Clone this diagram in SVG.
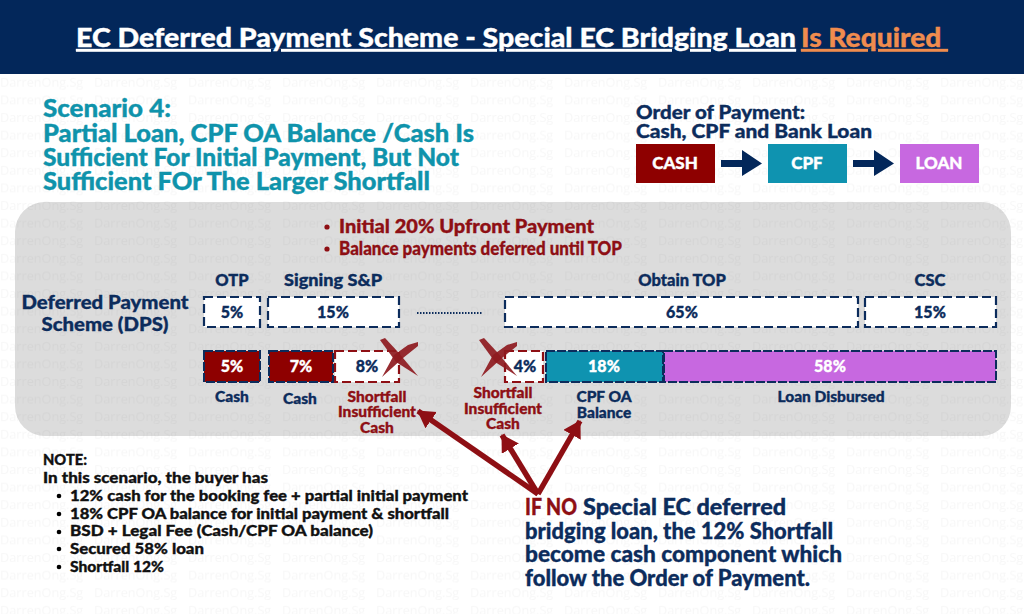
<svg xmlns="http://www.w3.org/2000/svg" width="1024" height="614" viewBox="0 0 1024 614">
<style>
text{font-family:"Lato","Open Sans","Liberation Sans",sans-serif;font-weight:900;stroke-width:.35px;paint-order:stroke}
.navy{fill:#0c2c5c;stroke:#0c2c5c}.red{fill:#8e0f14;stroke:#8e0f14}.teal{fill:#0f93ab;stroke:#0f93ab}.wht{fill:#fff;stroke:#fff}.blk{fill:#111;stroke:#111}
.c{text-anchor:middle}
.lab{font-size:15.5px}.pct{font-size:16px;text-anchor:middle}
.dash{fill:#fff;stroke:#0c2c5c;stroke-width:2.2;stroke-dasharray:9 4}
.dashr{fill:#fff;stroke:#8e0f14;stroke-width:2.2;stroke-dasharray:9 4}
.solid{stroke:#0c2c5c;stroke-width:2;stroke-dasharray:9 2}
.note{font-size:15.5px}.big{font-size:23px}.h2{font-size:24px}
.x{fill:#8e1a20;fill-opacity:.92}
.conn{stroke:#8e0f14;stroke-width:5.500;fill:none;marker-end:url(#ah)}
</style>
<defs>
<pattern id="wm" patternUnits="userSpaceOnUse" x="0" y="74" width="94" height="17.6">
<text x="0" y="12.500" style="font-family:'Open Sans',sans-serif;font-weight:400;font-size:12.700px;stroke:none" fill="#000" fill-opacity=".03">DarrenOng.Sg</text>
</pattern>
<marker id="ah" markerUnits="userSpaceOnUse" markerWidth="20" markerHeight="22" refX="16" refY="10" orient="auto"><path d="M0 0L17 10L0 20z" fill="#8e0f14"/></marker>
</defs>
<rect width="1024" height="614" fill="#fff"/>
<rect id="panel" x="15" y="202" width="996" height="234" rx="30" fill="#dcdcdc"/>
<rect x="0" y="74" width="1024" height="540" fill="url(#wm)"/>
<g id="banner">
<rect width="1024" height="74" fill="#03275a"/>
<text x="76" y="47" font-size="27" class="wht" text-decoration="underline" textLength="720" lengthAdjust="spacingAndGlyphs">EC Deferred Payment Scheme - Special EC Bridging Loan</text>
<text x="801" y="47" font-size="27" fill="#f08c4e" stroke="#f08c4e" text-decoration="underline" textLength="147" lengthAdjust="spacingAndGlyphs" xml:space="preserve">Is Required </text>
</g>
<g id="scenario">
<text class="h2 teal" x="43" y="117" textLength="128" lengthAdjust="spacingAndGlyphs">Scenario 4:</text>
<text class="h2 teal" x="43" y="142" textLength="431" lengthAdjust="spacingAndGlyphs">Partial Loan, CPF OA Balance /Cash Is</text>
<text class="h2 teal" x="43" y="166" textLength="416" lengthAdjust="spacingAndGlyphs">Sufficient For Initial Payment, But Not</text>
<text class="h2 teal" x="43" y="190" textLength="387" lengthAdjust="spacingAndGlyphs">Sufficient FOr The Larger Shortfall</text>
</g>
<g id="order">
<text class="navy" x="636" y="119" font-size="19" textLength="169" lengthAdjust="spacingAndGlyphs">Order of Payment:</text>
<text class="navy" x="636" y="138" font-size="19" textLength="236" lengthAdjust="spacingAndGlyphs">Cash, CPF and Bank Loan</text>
</g>
<g id="node-cash"><rect x="636" y="144" width="79" height="39" fill="#8e0000"/><text x="675" y="169" font-size="17" class="wht c">CASH</text></g>
<g id="node-cpf"><rect x="768" y="144" width="79" height="39" fill="#0f93b0"/><text x="807" y="169" font-size="17" class="wht c">CPF</text></g>
<g id="node-loan"><rect x="900" y="144" width="79" height="39" fill="#c768e0"/><text x="939" y="169" font-size="17" class="wht c">LOAN</text></g>
<g id="order-arrows" fill="#03275a">
<path d="M721 160H742V150L762 163.500L742 176V167H721z"/>
<path d="M853 160H874V150L894 163.500L874 176V167H853z"/>
</g>
<g id="bullets">
<circle cx="327" cy="227" r="2.600" fill="#8e0f14"/><circle cx="327" cy="249" r="2.600" fill="#8e0f14"/>
<text class="red" x="339" y="233" font-size="19" textLength="255" lengthAdjust="spacingAndGlyphs">Initial 20% Upfront Payment</text>
<text class="red" x="339" y="255" font-size="19" textLength="283" lengthAdjust="spacingAndGlyphs">Balance payments deferred until TOP</text>
</g>
<g id="dps-title">
<text x="105" y="309" font-size="19.500" class="c navy" textLength="167" lengthAdjust="spacingAndGlyphs">Deferred Payment</text>
<text x="105" y="331" font-size="19.500" class="c navy" textLength="127" lengthAdjust="spacingAndGlyphs">Scheme (DPS)</text>
</g>
<g id="stages">
<text x="232" y="286" font-size="16.500" class="c navy">OTP</text>
<text x="333" y="286" font-size="16.500" class="c navy" textLength="98" lengthAdjust="spacingAndGlyphs">Signing S&amp;P</text>
<text x="682" y="286" font-size="16.500" class="c navy">Obtain TOP</text>
<text x="930" y="286" font-size="16.500" class="c navy">CSC</text>
</g>
<g id="stage-otp"><rect class="dash" x="204" y="297" width="56" height="30"/><text class="pct navy" x="232" y="318">5%</text></g>
<g id="stage-sp"><rect class="dash" x="268" y="297" width="131" height="30"/><text class="pct navy" x="333" y="318">15%</text></g>
<g id="stage-top"><rect class="dash" x="505" y="297" width="353" height="30"/><text class="pct navy" x="682" y="318">65%</text></g>
<g id="stage-csc"><rect class="dash" x="865" y="297" width="131" height="30"/><text class="pct navy" x="930" y="318">15%</text></g>
<line id="dots" x1="417" y1="313" x2="483" y2="313" stroke="#0c2c5c" stroke-width="2" stroke-dasharray="1.500 1.500"/>
<g id="pay-cash1"><rect class="solid" x="204" y="351" width="56" height="31" fill="#8e0000"/><text class="pct wht" x="232" y="372">5%</text><text class="lab navy c" x="232" y="402">Cash</text></g>
<g id="pay-cash2"><rect class="solid" x="269" y="351" width="64" height="31" fill="#8e0000"/><text class="pct wht" x="301" y="372">7%</text><text class="lab navy c" x="300" y="404">Cash</text></g>
<g id="pay-short1"><rect class="dashr" x="335" y="351" width="64" height="31"/><text class="pct navy" x="367" y="372">8%</text>
<text class="lab c red" x="377" y="402">Shortfall</text><text class="lab c red" x="377" y="417">Insufficient</text><text class="lab c red" x="377" y="433">Cash</text>
<path class="x" d="M380 340L385 338L398 352L418 376L396 362z"/><path class="x" d="M418 342L418 346L403 358L382 377L394 355L408 345z"/></g>
<g id="pay-short2"><rect class="dashr" x="505" y="351" width="38" height="31"/><text class="pct navy" x="525" y="372">4%</text>
<text class="lab c red" x="503" y="398">Shortfall</text><text class="lab c red" x="503" y="414">Insufficient</text><text class="lab c red" x="503" y="429">Cash</text>
<path class="x" d="M479 340L484 338L497 352L517 376L495 362z"/><path class="x" d="M517 342L517 346L502 358L481 377L493 355L507 345z"/></g>
<g id="pay-cpf"><rect class="solid" x="546" y="351" width="117" height="31" fill="#0f93b0"/><text class="pct wht" x="604" y="372">18%</text><text class="lab navy c" x="604" y="402">CPF OA</text><text class="lab navy c" x="604" y="418">Balance</text></g>
<g id="pay-loan"><rect class="solid" x="664" y="351" width="332" height="31" fill="#c768e0"/><text class="pct wht" x="830" y="372">58%</text><text class="lab navy c" x="831" y="402">Loan Disbursed</text></g>
<g id="connectors">
<path class="conn" d="M538 494L418 411"/>
<path class="conn" d="M538 494L502 435"/>
<path class="conn" d="M538 494L580 421"/>
</g>
<g id="note">
<text class="note blk" x="43" y="465" textLength="44" lengthAdjust="spacingAndGlyphs">NOTE:</text>
<text class="note blk" x="43" y="483" textLength="225" lengthAdjust="spacingAndGlyphs">In this scenario, the buyer has</text>
<circle cx="59" cy="496" r="2.300"/><circle cx="59" cy="514" r="2.300"/><circle cx="59" cy="532" r="2.300"/><circle cx="59" cy="549" r="2.300"/><circle cx="59" cy="567" r="2.300"/>
<text class="note blk" x="70" y="501" textLength="398" lengthAdjust="spacingAndGlyphs">12% cash for the booking fee + partial initial payment</text>
<text class="note blk" x="70" y="519" textLength="379" lengthAdjust="spacingAndGlyphs">18% CPF OA balance for initial payment &amp; shortfall</text>
<text class="note blk" x="70" y="536" textLength="303" lengthAdjust="spacingAndGlyphs">BSD + Legal Fee (Cash/CPF OA balance)</text>
<text class="note blk" x="70" y="554" textLength="134" lengthAdjust="spacingAndGlyphs">Secured 58% loan</text>
<text class="note blk" x="70" y="572" textLength="94" lengthAdjust="spacingAndGlyphs">Shortfall 12%</text>
</g>
<g id="if-no">
<text class="big red" x="525" y="515" textLength="52" lengthAdjust="spacingAndGlyphs">IF NO</text>
<text class="big navy" x="583" y="515" textLength="203" lengthAdjust="spacingAndGlyphs">Special EC deferred</text>
<text class="big navy" x="525" y="539" textLength="308" lengthAdjust="spacingAndGlyphs">bridging loan, the 12% Shortfall</text>
<text class="big navy" x="525" y="562" textLength="317" lengthAdjust="spacingAndGlyphs">become cash component which</text>
<text class="big navy" x="525" y="586" textLength="285" lengthAdjust="spacingAndGlyphs">follow the Order of Payment.</text>
</g>
</svg>
